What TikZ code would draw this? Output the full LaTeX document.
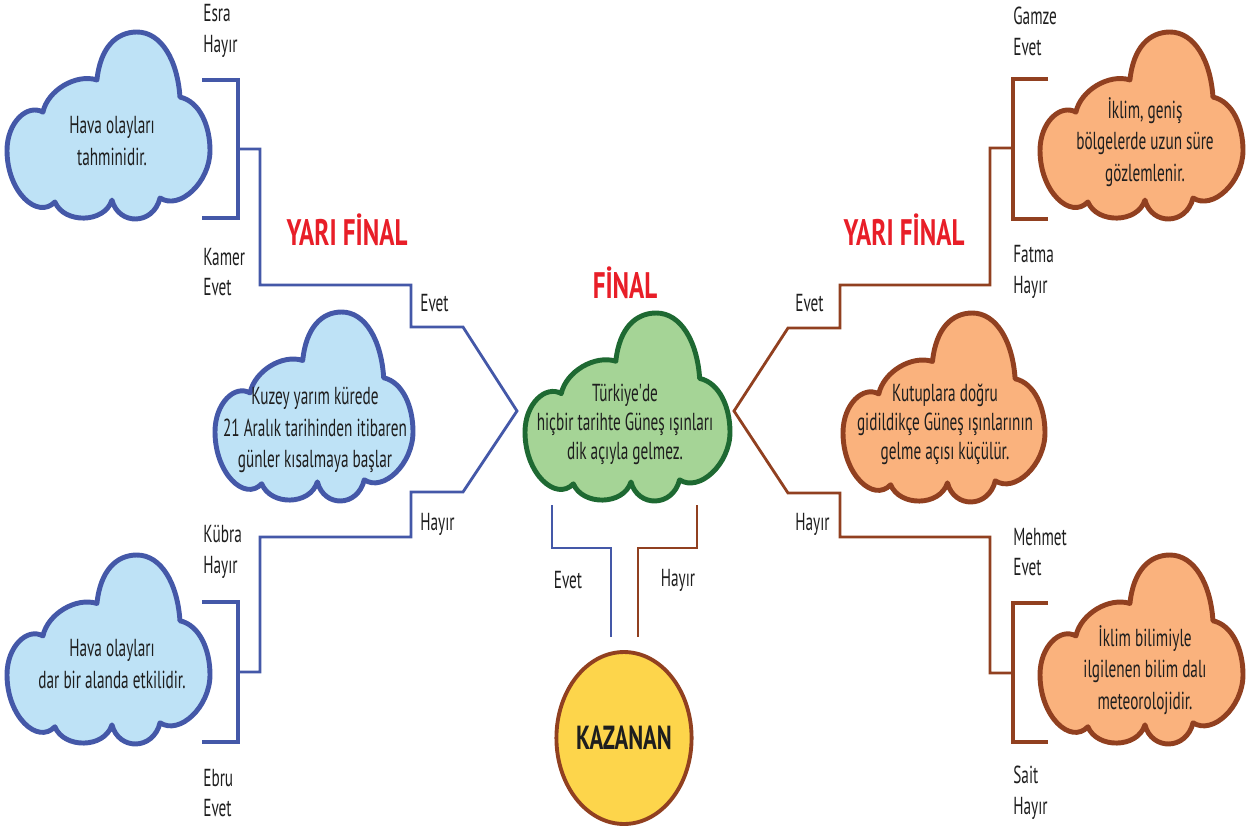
\documentclass[tikz,border=0pt]{standalone}
\usepackage{fontspec}
\setmainfont{PT Sans}[FakeStretch=0.62, Ligatures=TeXOff]
\newfontfamily\ttlfont{PT Sans}[FakeStretch=0.68]
\usetikzlibrary{shapes.geometric}
\definecolor{blueL}{RGB}{68,88,168}
\definecolor{blueF}{RGB}{190,226,246}
\definecolor{greenL}{RGB}{30,105,50}
\definecolor{greenF}{RGB}{165,212,150}
\definecolor{brownL}{RGB}{145,64,32}
\definecolor{orangeF}{RGB}{250,178,125}
\definecolor{yellowF}{RGB}{253,213,75}
\definecolor{redT}{RGB}{232,30,40}
\definecolor{txt}{RGB}{30,30,30}
\newcommand{\mycloud}[5]{%
\begin{scope}[shift={(#1,-#2-#4)},xscale=#3,yscale=#4]
\path[#5] (0.177,0.574) .. controls (0.2,0.69) and (0.34,0.78) .. (0.443,0.745)
 .. controls (0.46,0.92) and (0.54,1.0) .. (0.64,1.0)
 .. controls (0.76,1.0) and (0.84,0.85) .. (0.852,0.654)
 .. controls (0.95,0.63) and (1.0,0.5) .. (1.0,0.37)
 .. controls (1.0,0.2) and (0.85,0.05) .. (0.754,0.117)
 .. controls (0.72,-0.03) and (0.55,-0.03) .. (0.517,0.106)
 .. controls (0.48,-0.02) and (0.28,-0.02) .. (0.236,0.096)
 .. controls (0.15,0.0) and (0.0,0.15) .. (0.0,0.37)
 .. controls (0.0,0.52) and (0.1,0.62) .. (0.177,0.574) -- cycle;
\end{scope}}
\tikzset{
 lbl/.style={font=\fontsize{14}{17.6}\selectfont, text=txt, inner sep=0pt, align=left, anchor=west},
 ctext/.style={font=\fontsize{14}{18}\selectfont, text=txt, align=center, inner sep=0pt},
 ctextb/.style={font=\fontsize{14}{16.5}\selectfont, text=txt, align=center, inner sep=0pt},
 ttl/.style={font=\ttlfont\fontsize{21}{24}\selectfont\bfseries, text=redT, inner sep=0pt},
 bline/.style={draw=blueL, line width=1.6pt},
 bbrk/.style={draw=blueL, line width=2.2pt},
 rline/.style={draw=brownL, line width=1.6pt},
 rbrk/.style={draw=brownL, line width=2.2pt},
 bcloud/.style={draw=blueL, fill=blueF, line width=2.8pt, line join=round},
 gcloud/.style={draw=greenL, fill=greenF, line width=2.8pt, line join=round},
 ocloud/.style={draw=brownL, fill=orangeF, line width=2.8pt, line join=round},
}
\begin{document}
\begin{tikzpicture}[x=0.02cm,y=0.02cm]
\useasboundingbox (0,0) rectangle (1251,-829);
% clouds
\mycloud{7}{32}{203}{188}{bcloud}
\mycloud{215}{312}{198}{190}{bcloud}
\mycloud{7}{555}{203}{190}{bcloud}
\mycloud{525}{313}{205}{189}{gcloud}
\mycloud{1040}{32}{203}{188}{ocloud}
\mycloud{843}{313}{202}{190}{ocloud}
\mycloud{1040}{555}{203}{190}{ocloud}
% cloud texts
\node[ctext] (tLT) at (112,-141) {Hava olayları\\tahminidir.};
\node[ctext] (tLM) at (315,-430) {Kuzey yarım kürede\\21 Aralık tarihinden itibaren\\günler kısalmaya başlar};
\node[ctext] (tLB) at (112,-664) {Hava olayları\\dar bir alanda etkilidir.};
\node[ctextb] (tG) at (625,-424) {Türkiye'de\\hiçbir tarihte Güneş ışınları\\dik açıyla gelmez.};
\node[ctext] (tRT) at (1145,-142) {İklim, geniş\\bölgelerde uzun süre\\gözlemlenir.};
\node[ctextb] (tRM) at (945,-424) {Kutuplara doğru\\gidildikçe Güneş ışınlarının\\gelme açısı küçülür.};
\node[ctext] (tRB) at (1145,-670) {İklim bilimiyle\\ilgilenen bilim dalı\\meteorolojidir.};
% winner
\node[ellipse, draw=brownL, fill=yellowF, line width=2.2pt, minimum width=2.2cm, minimum height=3.44cm, inner sep=0pt,
  font=\ttlfont\fontsize{19}{22}\selectfont\bfseries, text=txt] (win) at (624,-738) {KAZANAN};
% titles
\node[ttl] (yfL) at (347,-230) {YARI FİNAL};
\node[ttl] (yfR) at (904,-230) {YARI FİNAL};
\node[ttl] (fin) at (625,-283) {FİNAL};
% left coordinates
\coordinate (a1) at (202,-80); \coordinate (a2) at (238,-80); \coordinate (a3) at (238,-218); \coordinate (a4) at (202,-218);
\coordinate (b1) at (202,-602); \coordinate (b2) at (238,-602); \coordinate (b3) at (238,-742); \coordinate (b4) at (202,-742);
\coordinate (s1) at (238,-149); \coordinate (s2) at (238,-672);
\coordinate (tip) at (517,-411);
\draw[bbrk] (a1) -- (a2) -- (a3) -- (a4);
\draw[bbrk] (b1) -- (b2) -- (b3) -- (b4);
\draw[bline] (s1) -- (260,-149) -- (260,-285) -- (411,-285) -- (411,-327) -- (463,-327) -- (tip)
  -- (463,-492) -- (411,-492) -- (411,-537) -- (260,-537) -- (260,-672) -- (s2);
% right coordinates
\coordinate (c1) at (1048,-79); \coordinate (c2) at (1013,-79); \coordinate (c3) at (1013,-219); \coordinate (c4) at (1048,-219);
\coordinate (d1) at (1048,-603); \coordinate (d2) at (1013,-603); \coordinate (d3) at (1013,-742); \coordinate (d4) at (1048,-742);
\coordinate (r1) at (1013,-148); \coordinate (r2) at (1013,-673);
\coordinate (rtip) at (734,-411);
\draw[rbrk] (c1) -- (c2) -- (c3) -- (c4);
\draw[rbrk] (d1) -- (d2) -- (d3) -- (d4);
\draw[rline] (r1) -- (990,-148) -- (990,-285) -- (840,-285) -- (840,-328) -- (788,-328) -- (rtip)
  -- (788,-493) -- (840,-493) -- (840,-537) -- (990,-537) -- (990,-673) -- (r2);
% centre bottom
\coordinate (g1) at (552,-505); \coordinate (g2) at (611,-637);
\coordinate (h1) at (697,-505); \coordinate (h2) at (638,-637);
\draw[bline] (g1) -- (552,-548) -- (611,-548) -- (g2);
\draw[rline] (h1) -- (697,-548) -- (638,-548) -- (h2);
% labels
\node[lbl] (nEsra) at (203,-31) {Esra\\Hayır};
\node[lbl] (nKamer) at (203,-272) {Kamer\\Evet};
\node[lbl] (nKubra) at (203,-552) {Kübra\\Hayır};
\node[lbl] (nEbru) at (203,-793) {Ebru\\Evet};
\node[lbl] (nGamze) at (1013,-31) {Gamze\\Evet};
\node[lbl] (nFatma) at (1013,-272) {Fatma\\Hayır};
\node[lbl] (nMehmet) at (1013,-552) {Mehmet\\Evet};
\node[lbl] (nSait) at (1013,-793) {Sait\\Hayır};
\node[lbl] (eL) at (420,-303) {Evet};
\node[lbl] (hL) at (420,-524) {Hayır};
\node[lbl] (eR) at (795,-303) {Evet};
\node[lbl] (hR) at (795,-524) {Hayır};
\node[lbl, anchor=center] (eC) at (568,-580) {Evet};
\node[lbl, anchor=center] (hC) at (678,-580) {Hayır};
\end{tikzpicture}
\end{document}
